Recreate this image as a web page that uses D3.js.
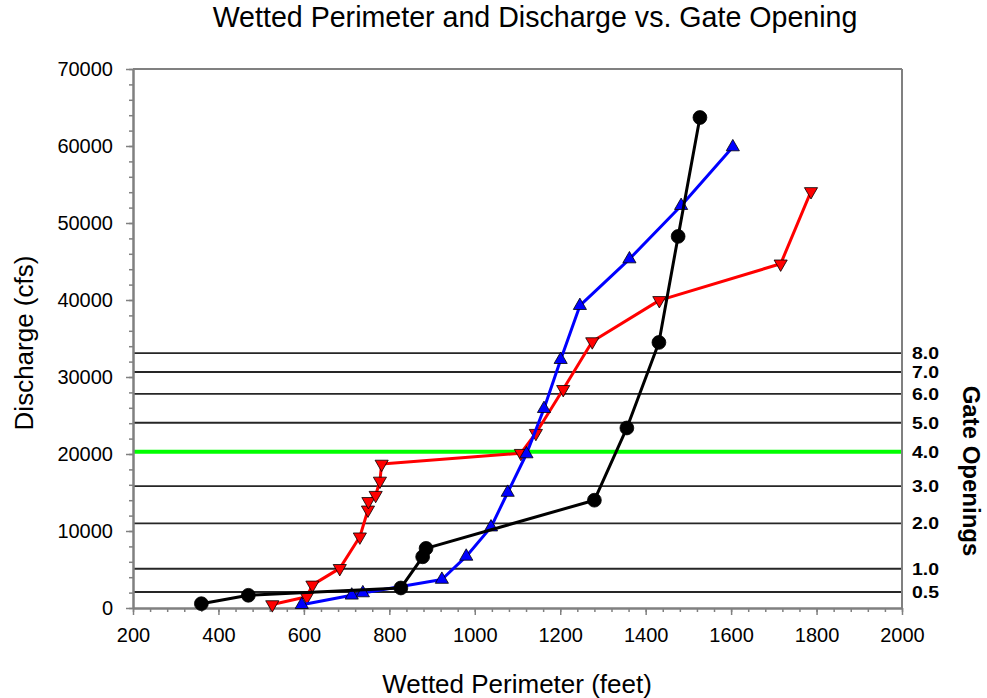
<!DOCTYPE html>
<html><head><meta charset="utf-8">
<script src="https://cdn.jsdelivr.net/npm/d3@7"></script>
<style>
body{margin:0;background:#fff}
text{font-family:Arial,"Liberation Sans",sans-serif;fill:#000}
</style>
</head><body>
<svg id="c" width="987" height="698"></svg>
<script>
// ---- data ----
const blackPerim = [360, 470, 827, 878, 886, 1280, 1356, 1431, 1476, 1527];
const blackQ     = [560, 1650, 2600, 6650, 7750, 14000, 23380, 34490, 48260, 63700];

const bluePerim = [595, 712, 738, 923, 980, 1038, 1077, 1121, 1162, 1201, 1246, 1362, 1483, 1604];
const blueQ     = [430, 1650, 1950, 3700, 6700, 10500, 15000, 20000, 25880, 32250, 39260, 45320, 52250, 59870];

const redPerim = [526, 607, 620, 684, 731, 750, 751, 768, 778, 782, 1108, 1143, 1207, 1275, 1432, 1716, 1787];
const redQ     = [450, 1450, 3000, 5150, 9250, 12750, 13850, 14650, 16500, 18700, 20100, 22700, 28400, 34600, 39950, 44700, 54100];

const gateLabels = ["0.5", "1.0", "2.0", "3.0", "4.0", "5.0", "6.0", "7.0", "8.0"];
const gateQ      = [2080, 5100, 10990, 15840, 20300, 24060, 27800, 30650, 33100];
const highlightGate = "4.0";

const xTicks = [200, 400, 600, 800, 1000, 1200, 1400, 1600, 1800, 2000];
const yTicks = [0, 10000, 20000, 30000, 40000, 50000, 60000, 70000];

const titleText = "Wetted Perimeter and Discharge vs. Gate Opening";
const xTitle = "Wetted Perimeter (feet)";
const yTitle = "Discharge (cfs)";
const rightTitle = "Gate Openings";

// ---- layout ----
const L = 133, R = 902, T = 69, B = 608;
const svg = d3.select("#c");
const x = d3.scaleLinear().domain([200, 2000]).range([L, R]);
const y = d3.scaleLinear().domain([0, 70000]).range([B, T]);

// gate opening reference lines
const g = svg.append("g");
gateQ.forEach((q, i) => {
  const hl = gateLabels[i] === highlightGate;
  g.append("line").attr("x1", L).attr("x2", R).attr("y1", y(q)).attr("y2", y(q))
    .attr("stroke", hl ? "#00ff00" : "#262626").attr("stroke-width", hl ? 4 : 1.8);
  svg.append("text").attr("x", 912).attr("y", y(q)).attr("dy", "0.36em")
    .attr("textLength", 27).attr("lengthAdjust", "spacingAndGlyphs")
    .style("font-size", "17px").style("font-weight", "bold").text(gateLabels[i]);
});

// frame (top, right)
svg.append("line").attr("x1", L).attr("x2", R).attr("y1", T).attr("y2", T)
  .attr("stroke", "#808080").attr("stroke-width", 2);
svg.append("line").attr("x1", R).attr("x2", R).attr("y1", T).attr("y2", B)
  .attr("stroke", "#808080").attr("stroke-width", 2);

// axes
function styleAxis(sel) {
  sel.select(".domain").attr("stroke", "#808080").attr("stroke-width", 2);
  sel.selectAll(".tick line").attr("stroke", "#808080").attr("stroke-width", 1.5);
  sel.selectAll("text").style("font-size", "20px").attr("fill", "#000");
}
const xMinor = d3.range(200, 2001, 40);
const yMinor = d3.range(0, 70001, 2000);
svg.append("g").attr("transform", `translate(0,${B})`)
  .call(d3.axisBottom(x).tickValues(xMinor).tickSize(4).tickFormat("").tickSizeOuter(0))
  .call(styleAxis);
svg.append("g").attr("transform", `translate(${L},0)`)
  .call(d3.axisLeft(y).tickValues(yMinor).tickSize(4).tickFormat("").tickSizeOuter(0))
  .call(styleAxis);
svg.append("g").attr("transform", `translate(0,${B})`)
  .call(d3.axisBottom(x).tickValues(xTicks).tickSize(7).tickPadding(13).tickFormat(d3.format("d")).tickSizeOuter(0))
  .call(styleAxis);
svg.append("g").attr("transform", `translate(${L},0)`)
  .call(d3.axisLeft(y).tickValues(yTicks).tickSize(7).tickPadding(13).tickFormat(d3.format("d")).tickSizeOuter(0))
  .call(styleAxis);

// series
const line = d3.line().x(d => x(d[0])).y(d => y(d[1]));
function series(px, qy, color, shape) {
  const pts = px.map((v, i) => [v, qy[i]]);
  svg.append("path").datum(pts).attr("d", line).attr("fill", "none")
    .attr("stroke", color).attr("stroke-width", 3).attr("stroke-linejoin", "round");
  const sym = d3.symbol().type(shape === "circle" ? d3.symbolCircle : d3.symbolTriangle)
    .size(shape === "circle" ? 150 : 75);
  svg.append("g").selectAll("path").data(pts).join("path")
    .attr("d", sym)
    .attr("transform", d => `translate(${x(d[0])},${y(d[1])})` + (shape === "down" ? " rotate(180)" : ""))
    .attr("fill", color).attr("stroke", "#000").attr("stroke-width", 0.8);
}
series(redPerim, redQ, "#ff0000", "down");
series(bluePerim, blueQ, "#0000ff", "up");
series(blackPerim, blackQ, "#000000", "circle");

// titles
svg.append("text").attr("x", 535).attr("y", 27).attr("text-anchor", "middle")
  .style("font-size", "28.6px").text(titleText);
svg.append("text").attr("x", 517).attr("y", 693).attr("text-anchor", "middle")
  .style("font-size", "26px").text(xTitle);
svg.append("text").attr("transform", "translate(33,343) rotate(-90)").attr("text-anchor", "middle")
  .style("font-size", "26px").text(yTitle);
svg.append("text").attr("transform", "translate(963,471) rotate(90)").attr("text-anchor", "middle")
  .style("font-size", "24px").style("font-weight", "bold").text(rightTitle);
</script>
</body></html>
